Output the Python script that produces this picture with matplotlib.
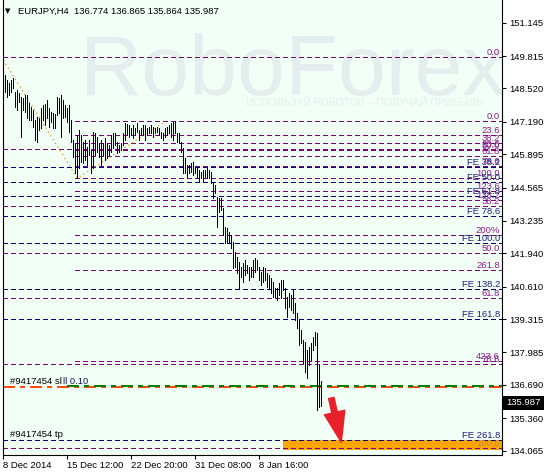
import matplotlib
matplotlib.use("Agg")
import matplotlib.pyplot as plt
import matplotlib.transforms as mtransforms
from matplotlib.patches import Rectangle

plt.rcParams['font.family'] = ['Liberation Sans', 'DejaVu Sans']
plt.rcParams['lines.scale_dashes'] = False

W, H = 544, 472
BG = '#f2fff7'
PURPLE = '#800080'
PURPLE_TXT = '#8e1c8e'
NAVY = '#000080'
NAVY_TXT = '#202080'

SYMBOL = "EURJPY,H4"
LAST_OHLC = [136.774, 136.865, 135.864, 135.987]

# H4 bars, high / low (one per bar)
HIGH = [
    149.50, 149.06, 148.86, 148.73, 148.86, 148.93, 148.39, 148.46, 148.33, 148.19,
    148.13, 148.26, 148.26, 147.93, 147.79, 147.66, 147.26, 147.39, 147.33, 147.73,
    147.86, 147.89, 148.06, 147.73, 147.59, 147.53, 147.50, 148.19, 148.13, 148.26,
    148.06, 147.86, 147.73, 147.86, 147.26, 146.47, 146.33, 146.66, 146.86, 146.66,
    146.40, 146.47, 146.20, 146.47, 146.07, 146.80, 146.73, 146.60, 146.33, 146.47,
    146.33,
    146.54, 146.34, 146.27, 146.66, 146.74, 146.74, 146.38, 146.27, 146.34, 146.74,
    147.14, 147.10, 147.06, 146.94, 147.06, 146.94, 147.14, 146.86, 146.94, 147.06,
    147.06, 146.94, 146.98, 147.06, 146.98, 146.94, 146.98, 146.94, 146.78, 146.74,
    146.94, 146.98, 147.06, 147.14, 147.18, 147.22, 146.74, 146.74, 146.38, 146.15,
    145.75, 145.47, 145.47, 145.55, 145.59, 145.39, 145.35, 145.27,
    145.19, 145.27, 145.27, 145.35, 145.27, 145.19, 144.79, 144.67, 144.19, 144.15,
    144.15, 143.75, 142.99, 142.95, 142.79, 142.67, 142.39, 141.99, 141.80, 141.60,
    141.40, 141.56, 141.68, 141.48, 141.40, 141.40, 141.68, 141.76, 141.68, 141.40,
    141.20, 141.40, 141.36, 141.16, 141.08, 140.96,
    140.80, 140.56, 140.56, 140.76, 140.88, 140.88, 140.56, 140.20, 140.36, 140.28,
    140.48, 139.96, 139.56, 139.28, 138.88, 138.48, 138.40, 138.08, 138.20, 138.36,
    138.60, 138.80, 138.76, 137.49, 136.865,
]
LOW = [
    149.26, 148.37, 148.19, 148.26, 148.39, 148.53, 147.79, 147.66, 147.99, 146.60,
    147.66, 147.59, 147.33, 147.26, 147.26, 146.99, 146.47, 146.40, 146.86, 146.93,
    147.26, 147.06, 147.33, 146.99, 147.19, 146.93, 146.95, 147.46, 147.53, 146.60,
    147.33, 147.39, 147.19, 146.80, 146.40, 145.80, 145.14, 144.94, 145.34, 145.60,
    145.54, 145.67, 145.47, 145.87, 145.14, 145.34, 145.87, 146.00, 145.80, 145.47,
    145.87,
    145.67, 145.75, 145.87, 145.99, 146.15, 146.27, 145.95, 145.99, 146.07, 146.27,
    146.47, 146.66, 146.58, 146.66, 146.54, 146.66, 146.78, 146.47, 146.66, 146.66,
    146.47, 146.66, 146.74, 146.74, 146.58, 146.74, 146.78, 146.66, 146.54, 146.47,
    146.58, 146.66, 146.74, 146.58, 146.47, 146.74, 146.39, 146.34, 145.99, 145.15,
    145.15, 144.99, 145.15, 145.19, 145.07, 145.15, 144.99, 144.79,
    144.95, 144.79, 144.99, 144.95, 144.95, 144.75, 144.15, 144.35, 142.99, 143.59,
    143.67, 142.67, 142.35, 142.35, 142.39, 142.15, 141.36, 141.40, 141.16, 140.56,
    141.00, 140.80, 141.08, 141.16, 140.88, 141.00, 141.00, 141.20, 141.28, 140.88,
    140.68, 140.80, 140.88, 140.60, 140.56, 140.36,
    140.20, 140.20, 140.08, 140.28, 140.16, 140.48, 139.76, 139.40, 139.80, 139.68,
    139.56, 139.28, 138.96, 138.28, 138.36, 137.57, 137.21, 136.97, 137.49, 137.69,
    138.08, 138.28, 135.69, 135.81, 135.864,
]

XTICK_BARS = [0, 32, 64, 96, 128]
XTICK_LABELS = ["8 Dec 2014", "15 Dec 12:00", "22 Dec 20:00", "31 Dec 08:00", "8 Jan 16:00"]
YTICKS = [151.145, 149.815, 148.520, 147.190, 145.895, 144.565, 143.235,
          141.940, 140.610, 139.315, 137.985, 136.690, 135.360, 134.065]

# retracement drawn across the whole chart
FIB_A_LABELS = ["0.0", "23.6", "38.2", "50.0", "61.8", "78.6", "100.0"]
FIB_A_PRICES = [149.76, 146.09, 143.84, 141.96, 140.15, 137.54, 134.16]
# retracement starting at the mid-December low
FIB_B_START = 36
FIB_B_LABELS = ["0.0", "23.6", "38.2", "50.0", "61.8", "78.6", "100.0",
                "123.6", "138.2", "200%", "261.8", "423.6"]
FIB_B_PRICES = [147.21, 146.68, 146.35, 146.08, 145.81, 145.43, 144.95,
                144.42, 144.08, 142.69, 141.29, 137.63]
# expansion
FE_LABELS = ["FE 38.2", "FE 50.0", "FE 61.8", "FE 78.6", "FE 100.0",
             "FE 138.2", "FE 161.8", "FE 261.8"]
FE_PRICES = [145.375, 144.777, 144.222, 143.412, 142.343, 140.50, 139.315, 134.483]
FE_POINT_BARS = [0, 37, 81]
FE_POINT_PRICES = [149.66, 144.94, 147.20]

SL_PRICE = 136.62
ZONE_START = 140
ZONE_LOW, ZONE_HIGH = 134.14, 134.48
ARROW_TAIL = (164, 136.17)
ARROW_HEAD = (169, 134.40)

fig = plt.figure(figsize=(W / 100, H / 100), dpi=100)
fig.patch.set_facecolor('white')
ax = fig.add_axes([2.5 / W, 17 / H, 499.5 / W, 455 / H])
ax.set_facecolor(BG)
XMAX = 249.35
ax.set_xlim(-0.4, XMAX)
ax.set_ylim(133.894, 152.051)

# watermark
ax.text(80 / W, 1 - 95 / H, "RoboForex", transform=fig.transFigure,
        fontsize=62, color='#e5eeee', va='baseline', ha='left', zorder=0.2)
ax.text(246 / W, 1 - 103 / H, "ИСПОЛЬЗУЙ РОБОТОВ – ПОЛУЧАЙ ПРИБЫЛЬ",
        transform=fig.transFigure, fontsize=7.6, color='#e6eeee',
        va='center', ha='left', zorder=0.2)

dash = (0, (2.9, 2.2))
for p in FIB_A_PRICES:
    ax.plot([-0.4, XMAX], [p, p], color=PURPLE, lw=0.6, ls=dash,
            antialiased=False, zorder=1.5)
for p in FIB_B_PRICES:
    ax.plot([FIB_B_START, XMAX], [p, p], color=PURPLE, lw=0.6, ls=dash,
            antialiased=False, zorder=1.5)
for p in FE_PRICES:
    ax.plot([-0.4, XMAX], [p, p], color=NAVY, lw=0.6, ls=dash,
            antialiased=False, zorder=1.6)

# zone box
ax.add_patch(Rectangle((ZONE_START, ZONE_LOW), XMAX - ZONE_START, ZONE_HIGH - ZONE_LOW,
                       facecolor='#ffa500', edgecolor='#e89a10', lw=0.6, zorder=1.4))

# expansion anchor lines
ax.plot(FE_POINT_BARS, FE_POINT_PRICES, color='#e0a020', lw=0.9,
        ls=(0, (1.0, 2.2)), zorder=1.7)

# stop-loss line
sl_pat = (0, (8.6, 3.6, 2.9, 3.6))
ax.plot([-0.4, XMAX], [SL_PRICE - 0.02, SL_PRICE - 0.02], color='#ff4a10', lw=1.2,
        ls=sl_pat, antialiased=False, zorder=1.8)
ax.plot([32, XMAX], [SL_PRICE + 0.015, SL_PRICE + 0.015], color='#008000', lw=1.2,
        ls=sl_pat, antialiased=False, zorder=1.9)

# bars
ax.vlines(range(len(HIGH)), LOW, HIGH, colors='black', lw=0.45,
          antialiased=False, zorder=3)

# level labels on the right
lab = mtransforms.blended_transform_factory(ax.transAxes, ax.transData) + \
    mtransforms.ScaledTranslation(0, 2 / 100, fig.dpi_scale_trans)
for lbl, p in zip(FIB_A_LABELS, FIB_A_PRICES):
    col = '#c08a3a' if lbl == "100.0" else PURPLE_TXT
    ax.text(0.996, p, lbl, transform=lab, ha='right', va='baseline',
            fontsize=6.8, color=col, zorder=4)
for lbl, p in zip(FIB_B_LABELS, FIB_B_PRICES):
    ax.text(0.996, p, lbl, transform=lab, ha='right', va='baseline',
            fontsize=6.8, color=PURPLE_TXT, zorder=4)
for lbl, p in zip(FE_LABELS, FE_PRICES):
    ax.text(0.996, p, lbl, transform=lab, ha='right', va='baseline',
            fontsize=6.8, color=NAVY_TXT, zorder=4.1)

# order labels
lab_l = mtransforms.blended_transform_factory(ax.transAxes, ax.transData) + \
    mtransforms.ScaledTranslation(0, 3 / 100, fig.dpi_scale_trans)
ax.text(7.5 / 499.5, SL_PRICE, "#9417454 sl", transform=lab_l, ha='left',
        va='baseline', fontsize=6.8, color='black', zorder=4)
ax.text(60.5 / 499.5, SL_PRICE, "ll 0.10", transform=lab_l, ha='left',
        va='baseline', fontsize=6.8, color='#1a1a60', zorder=4)
ax.text(7.5 / 499.5, FE_PRICES[-1], "#9417454 tp", transform=lab_l, ha='left',
        va='baseline', fontsize=6.8, color='black', zorder=4)

# arrow
ax.annotate('', xy=ARROW_HEAD, xytext=ARROW_TAIL, annotation_clip=False,
            arrowprops=dict(arrowstyle='simple,head_length=1.1,head_width=0.75,tail_width=0.2',
                            color='#e8202a', shrinkA=0, shrinkB=0, mutation_scale=20),
            zorder=5)

# axes look
ax.spines['top'].set_visible(False)
for s in ('left', 'right', 'bottom'):
    ax.spines[s].set_linewidth(0.8)
    ax.spines[s].set_color('black')
ax.yaxis.tick_right()
ax.set_yticks(YTICKS)
ax.set_yticklabels([f"{v:.3f}" for v in YTICKS])
ax.tick_params(axis='y', length=3, width=0.75, pad=2.2, labelsize=6.8)
ax.set_xticks(XTICK_BARS)
ax.set_xticklabels(XTICK_LABELS, ha='left')
ax.tick_params(axis='x', length=3, width=0.75, pad=1.2, labelsize=6.8)

# current price box
box = mtransforms.blended_transform_factory(ax.transAxes, ax.transData)
ax.add_patch(Rectangle((1.002, LAST_OHLC[3] - 0.28), 0.084, 0.56, transform=box,
                       facecolor='black', edgecolor='none', clip_on=False, zorder=6))
ax.text(1.009, LAST_OHLC[3], f"{LAST_OHLC[3]:.3f}", transform=box, ha='left',
        va='center', fontsize=6.8, color='white', zorder=7, clip_on=False)

# header
fig.text(8 / W, 1 - 11 / H, "▼", fontsize=5, ha='center', va='center',
         family=['DejaVu Sans'])
fig.text(18 / W, 1 - 11 / H,
         f"{SYMBOL}  " + " ".join(f"{v:.3f}" for v in LAST_OHLC),
         fontsize=6.8, ha='left', va='center')

fig.savefig("out.png", dpi=100)
